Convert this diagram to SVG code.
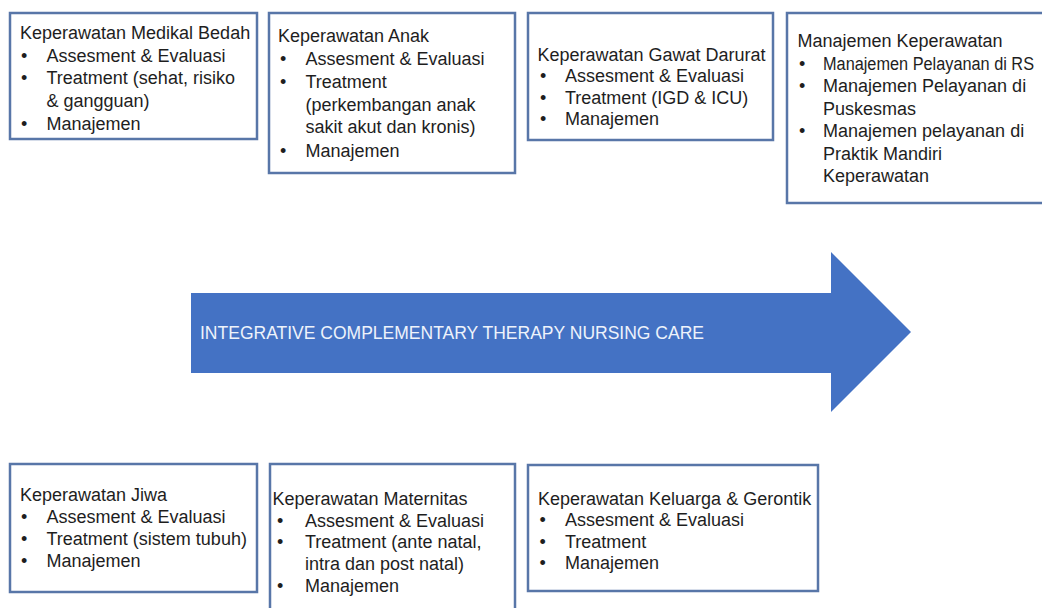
<svg xmlns="http://www.w3.org/2000/svg" width="1042" height="608" viewBox="0 0 1042 608">
<style>
.box{fill:#ffffff;stroke:#5876a8;stroke-width:2.5}
.t{font-family:"Liberation Sans",Arial,sans-serif;font-size:18px;fill:#1e1e1e}
.arrow{fill:#4472c4}
.at{font-family:"Liberation Sans",Arial,sans-serif;font-size:19px;fill:#eef3fb}
</style>
<rect width="1042" height="608" fill="#ffffff"/>
<g id="connectors">
<g id="arrow">
<polygon class="arrow" points="191,293 831,293 831,252 911,332 831,412 831,373 191,373"/>
<text class="at" x="200" y="339" textLength="504" lengthAdjust="spacingAndGlyphs">INTEGRATIVE COMPLEMENTARY THERAPY NURSING CARE</text>
</g>
</g>
<g id="node-medikal-bedah">
<rect class="box" x="10" y="13" width="247" height="126"/>
<text class="t" x="20" y="39">Keperawatan Medikal Bedah</text>
<text class="t" x="21" y="61.7">•</text><text class="t" x="46.5" y="61.7">Assesment &amp; Evaluasi</text>
<text class="t" x="21" y="84.4">•</text><text class="t" x="46.5" y="84.4">Treatment (sehat, risiko</text>
<text class="t" x="46.5" y="107">&amp; gangguan)</text>
<text class="t" x="21" y="129.8">•</text><text class="t" x="46.5" y="129.8">Manajemen</text>
</g>
<g id="node-anak">
<rect class="box" x="269" y="13" width="246" height="160"/>
<text class="t" x="278" y="41.7">Keperawatan Anak</text>
<text class="t" x="280" y="65">•</text><text class="t" x="305.5" y="65">Assesment &amp; Evaluasi</text>
<text class="t" x="280" y="88.3">•</text><text class="t" x="305.5" y="88.3">Treatment</text>
<text class="t" x="305.5" y="110.5">(perkembangan anak</text>
<text class="t" x="305.5" y="133.3">sakit akut dan kronis)</text>
<text class="t" x="280" y="156.7">•</text><text class="t" x="305.5" y="156.7">Manajemen</text>
</g>
<g id="node-gawat-darurat">
<rect class="box" x="528" y="13" width="245" height="127"/>
<text class="t" x="537.5" y="60.5">Keperawatan Gawat Darurat</text>
<text class="t" x="540" y="82">•</text><text class="t" x="565" y="82">Assesment &amp; Evaluasi</text>
<text class="t" x="540" y="103.5">•</text><text class="t" x="565" y="103.5">Treatment (IGD &amp; ICU)</text>
<text class="t" x="540" y="125">•</text><text class="t" x="565" y="125">Manajemen</text>
</g>
<g id="node-manajemen">
<rect class="box" x="787" y="13" width="270" height="190"/>
<text class="t" x="797.5" y="47">Manajemen Keperawatan</text>
<text class="t" x="799" y="69.5">•</text><text class="t" x="823" y="69.5" textLength="211" lengthAdjust="spacingAndGlyphs">Manajemen Pelayanan di RS</text>
<text class="t" x="799" y="92">•</text><text class="t" x="823" y="92">Manajemen Pelayanan di</text>
<text class="t" x="823" y="114.5">Puskesmas</text>
<text class="t" x="799" y="137">•</text><text class="t" x="823" y="137">Manajemen pelayanan di</text>
<text class="t" x="823" y="159.5">Praktik Mandiri</text>
<text class="t" x="823" y="182">Keperawatan</text>
</g>
<g id="node-jiwa">
<rect class="box" x="10" y="464" width="247" height="128"/>
<text class="t" x="20" y="500.5">Keperawatan Jiwa</text>
<text class="t" x="21" y="522.5">•</text><text class="t" x="46.5" y="522.5">Assesment &amp; Evaluasi</text>
<text class="t" x="21" y="544.5">•</text><text class="t" x="46.5" y="544.5">Treatment (sistem tubuh)</text>
<text class="t" x="21" y="566.5">•</text><text class="t" x="46.5" y="566.5">Manajemen</text>
</g>
<g id="node-maternitas">
<rect class="box" x="270" y="464" width="245" height="160"/>
<text class="t" x="272.5" y="505">Keperawatan Maternitas</text>
<text class="t" x="277" y="526.7">•</text><text class="t" x="305" y="526.7">Assesment &amp; Evaluasi</text>
<text class="t" x="277" y="548.3">•</text><text class="t" x="305" y="548.3">Treatment (ante natal,</text>
<text class="t" x="305" y="570">intra dan post natal)</text>
<text class="t" x="277" y="591.7">•</text><text class="t" x="305" y="591.7">Manajemen</text>
</g>
<g id="node-keluarga-gerontik">
<rect class="box" x="528" y="465" width="290" height="126"/>
<text class="t" x="538" y="505">Keperawatan Keluarga &amp; Gerontik</text>
<text class="t" x="539.5" y="526.3">•</text><text class="t" x="565" y="526.3">Assesment &amp; Evaluasi</text>
<text class="t" x="539.5" y="547.6">•</text><text class="t" x="565" y="547.6">Treatment</text>
<text class="t" x="539.5" y="569">•</text><text class="t" x="565" y="569">Manajemen</text>
</g>
</svg>
